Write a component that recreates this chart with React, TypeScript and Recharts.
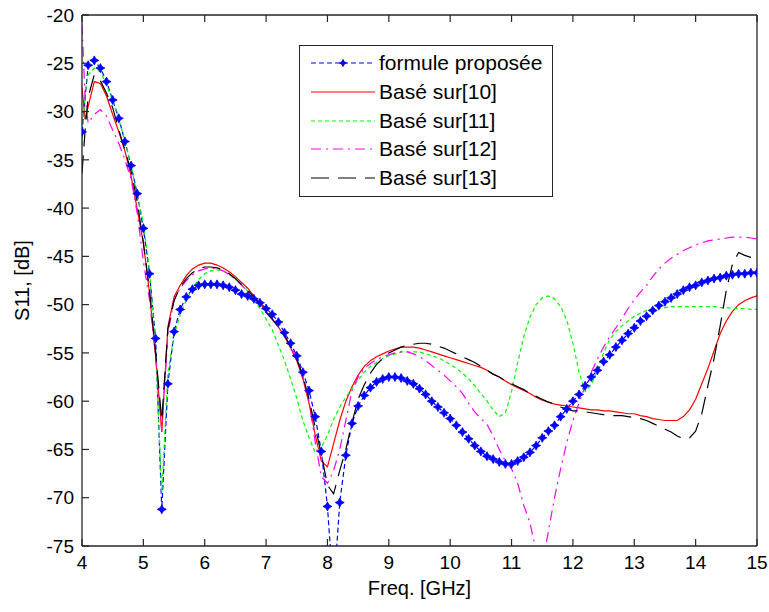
import { LineChart, Line, XAxis, YAxis, Legend } from "recharts";

// frequency grid, GHz (one extra point at 4.05 for the sharp start)
const freq = [
  4.0, 4.05,
  4.1, 4.2, 4.3, 4.4, 4.5, 4.6, 4.7, 4.8, 4.9, 5.0,
  5.1, 5.2, 5.3, 5.4, 5.5, 5.6, 5.7, 5.8, 5.9, 6.0,
  6.1, 6.2, 6.3, 6.4, 6.5, 6.6, 6.7, 6.8, 6.9, 7.0,
  7.1, 7.2, 7.3, 7.4, 7.5, 7.6, 7.7, 7.8, 7.9, 8.0,
  8.1, 8.2, 8.3, 8.4, 8.5, 8.6, 8.7, 8.8, 8.9, 9.0,
  9.1, 9.2, 9.3, 9.4, 9.5, 9.6, 9.7, 9.8, 9.9, 10.0,
  10.1, 10.2, 10.3, 10.4, 10.5, 10.6, 10.7, 10.8, 10.9, 11.0,
  11.1, 11.2, 11.3, 11.4, 11.5, 11.6, 11.7, 11.8, 11.9, 12.0,
  12.1, 12.2, 12.3, 12.4, 12.5, 12.6, 12.7, 12.8, 12.9, 13.0,
  13.1, 13.2, 13.3, 13.4, 13.5, 13.6, 13.7, 13.8, 13.9, 14.0,
  14.1, 14.2, 14.3, 14.4, 14.5, 14.6, 14.7, 14.8, 14.9, 15.0,
];

const formuleProposee = [
  -32.1, null,
  -25.2, -24.7, -25.5, -26.9, -28.8, -30.7, -33.1, -35.6, -38.5, -42.1,
  -46.8, -53.5, -71.2, -58.2, -52.8, -50.5, -49.2, -48.4, -48.0, -47.9,
  -47.9, -47.9, -48.0, -48.2, -48.5, -48.9, -49.1, -49.4, -49.8, -50.4,
  -51.0, -51.8, -52.9, -54.0, -55.3, -57.0, -58.9, -61.6, -65.2, -70.9,
  -80.0, -70.5, -65.6, -62.3, -60.5, -59.4, -58.6, -58.0, -57.7, -57.5,
  -57.5, -57.6, -57.9, -58.2, -58.7, -59.3, -60.0, -60.6, -61.2, -61.8,
  -62.5, -63.2, -63.9, -64.6, -65.2, -65.7, -66.0, -66.3, -66.5, -66.5,
  -66.2, -65.8, -65.3, -64.6, -63.8, -63.1, -62.5, -61.6, -60.8, -60.0,
  -59.3, -58.4, -57.5, -56.8, -55.9, -55.2, -54.4, -53.7, -53.0, -52.4,
  -51.7, -51.2, -50.6, -50.1, -49.7, -49.3, -48.9, -48.5, -48.2, -48.0,
  -47.7, -47.5, -47.3, -47.2, -47.0, -46.9, -46.8, -46.8, -46.7, -46.7,
];

const baseSur10 = [
  -27.5, -30.8,
  -29.5, -26.9, -27.1, -28.4, -30.3, -32.1, -34.1, -36.7, -40.1, -43.6,
  -48.8, -55.3, -63.2, -52.3, -49.2, -48.0, -47.0, -46.3, -45.9, -45.7,
  -45.7, -45.9, -46.2, -46.6, -47.1, -47.7, -48.3, -49.1, -49.9, -50.7,
  -51.5, -52.3, -53.3, -54.5, -55.8, -57.7, -60.2, -63.5, -66.2, -66.8,
  -64.4, -62.0, -60.0, -58.5, -57.3, -56.4, -55.8, -55.4, -55.1, -54.8,
  -54.6, -54.4, -54.4, -54.4, -54.5, -54.7, -54.9, -55.1, -55.3, -55.5,
  -55.7, -55.9, -56.1, -56.3, -56.5, -56.8, -57.2, -57.5, -57.9, -58.3,
  -58.6, -58.9, -59.2, -59.6, -59.9, -60.1, -60.3, -60.4, -60.5, -60.6,
  -60.7, -60.8, -60.9, -60.9, -61.0, -61.0, -61.1, -61.2, -61.3, -61.3,
  -61.5, -61.6, -61.8, -61.9, -62.0, -62.0, -62.0, -61.6, -60.9, -59.8,
  -58.2, -56.6, -54.8, -53.0, -51.7, -50.7, -50.0, -49.6, -49.3, -49.1,
];

const baseSur11 = [
  -33.5, -28.0,
  -26.2, -25.5, -25.9, -27.2, -28.9, -30.8, -33.0, -35.6, -38.7, -41.5,
  -46.5, -54.5, -69.5, -57.0, -53.3, -51.0, -49.5, -48.3, -47.4, -46.8,
  -46.5, -46.4, -46.5, -46.9, -47.4, -47.9, -48.6, -49.5, -50.4, -51.5,
  -52.6, -54.2, -55.8, -57.7, -59.7, -62.0, -63.8, -65.3, -64.8, -63.5,
  -61.9, -60.6, -59.6, -58.7, -57.8, -57.0, -56.4, -56.0, -55.6, -55.3,
  -55.1, -54.9, -54.9, -54.9, -54.9, -55.1, -55.3, -55.5, -55.8, -56.2,
  -56.6, -57.1, -57.7, -58.4, -59.2, -60.0, -60.9, -61.6, -61.2, -59.0,
  -56.0, -53.3, -51.3, -50.0, -49.3, -49.1, -49.4, -50.2, -51.6, -54.0,
  -57.0, -59.0, -58.3, -56.8, -55.0, -53.6, -52.8, -52.2, -51.7, -51.2,
  -50.9, -50.6, -50.5, -50.4, -50.3, -50.2, -50.2, -50.2, -50.2, -50.2,
  -50.2, -50.2, -50.2, -50.3, -50.3, -50.4, -50.4, -50.4, -50.5, -50.5,
];

const baseSur12 = [
  -21.0, -28.5,
  -31.2, -30.3, -29.8, -30.5, -31.9, -33.3, -35.0, -37.0, -40.5, -45.5,
  -49.5, -55.5, -63.0, -53.0, -49.5, -48.3, -47.5, -46.9, -46.5, -46.3,
  -46.2, -46.3, -46.5, -46.9, -47.4, -48.0, -48.6, -49.3, -50.0, -50.8,
  -51.5, -52.3, -53.2, -54.3, -55.6, -57.4, -60.0, -64.2, -67.8, -68.5,
  -67.2, -65.0, -62.0, -58.9, -57.5, -56.6, -56.1, -55.7, -55.4, -55.2,
  -55.0, -54.9, -54.9, -55.1, -55.4, -55.8, -56.3, -56.8, -57.3, -57.9,
  -58.5, -59.2, -60.2, -61.1, -61.8, -62.4, -63.6, -65.0, -66.2, -67.0,
  -68.5, -70.8, -72.6, -75.5, -77.0, -73.5, -70.0, -67.0, -64.3, -62.0,
  -60.2, -58.4, -57.0, -55.6, -54.4, -53.3, -52.4, -51.4, -50.4, -49.5,
  -48.7, -48.0, -47.1, -46.3, -45.7, -45.2, -44.8, -44.4, -44.1, -43.8,
  -43.6, -43.4, -43.3, -43.2, -43.1, -43.0, -43.0, -43.0, -43.1, -43.2,
];

const baseSur13 = [
  -36.4, -32.0,
  -28.5, -26.2, -26.8, -28.1, -29.6, -31.9, -34.0, -36.2, -39.3, -43.6,
  -48.5, -55.0, -62.0, -52.5, -49.6, -48.2, -47.3, -46.7, -46.3, -46.1,
  -46.1, -46.2, -46.4, -46.8, -47.3, -47.9, -48.5, -49.2, -50.0, -50.8,
  -51.5, -52.3, -53.2, -54.3, -55.6, -57.4, -59.8, -62.7, -65.5, -68.7,
  -69.6, -67.2, -65.0, -62.2, -59.8, -58.3, -57.1, -56.2, -55.6, -55.0,
  -54.7, -54.4, -54.2, -54.1, -54.0, -54.0, -54.1, -54.3, -54.5, -54.8,
  -55.1, -55.4, -55.7, -56.0, -56.4, -56.8, -57.2, -57.5, -57.9, -58.2,
  -58.5, -58.8, -59.2, -59.5, -59.8, -60.1, -60.3, -60.6, -60.8, -61.0,
  -61.0, -61.1, -61.2, -61.3, -61.4, -61.5, -61.5, -61.5, -61.6, -61.7,
  -61.8, -62.0, -62.3, -62.6, -62.9, -63.2, -63.6, -63.9, -63.8, -63.1,
  -61.3, -58.4, -55.6, -52.2, -48.5, -45.8, -44.6, -44.9, -45.1, -45.2,
];

const xTicks = [4, 5, 6, 7, 8, 9, 10, 11, 12, 13, 14, 15];
const yTicks = [-75, -70, -65, -60, -55, -50, -45, -40, -35, -30, -25, -20];

const seriesNames = [
  "formule proposée",
  "Basé sur[10]",
  "Basé sur[11]",
  "Basé sur[12]",
  "Basé sur[13]",
];

const seriesKeys = ["s0", "s1", "s2", "s3", "s4"];
const seriesColors = ["#0000ff", "#ff0000", "#00ff00", "#ff00ff", "#000000"];
const seriesDashes = ["5 3", "", "4 3", "10 5 2 5", "18 9"];

const rows = freq.map((f, i) => ({
  f,
  s0: formuleProposee[i],
  s1: baseSur10[i],
  s2: baseSur11[i],
  s3: baseSur12[i],
  s4: baseSur13[i],
}));

const FONT = '"Liberation Sans", Arial, sans-serif';
const AXIS = "#262626";

function starPath(cx: number, cy: number, r: number) {
  const k = r * 0.35;
  return `M${cx},${cy - r}L${cx + k},${cy - k}L${cx + r},${cy}L${cx + k},${cy + k}L${cx},${cy + r}L${cx - k},${cy + k}L${cx - r},${cy}L${cx - k},${cy - k}Z`;
}

function StarDot(props: any) {
  const { cx, cy, value, index } = props;
  if (cx == null || cy == null || value == null || value < -75) {
    return <g key={`d${index}`} />;
  }
  return (
    <path
      key={`d${index}`}
      d={starPath(cx, cy, 4.5)}
      fill="#0000ff"
      stroke="#0000ff"
      strokeWidth={0.8}
    />
  );
}

function LegendBox() {
  return (
    <div
      style={{
        width: 254,
        height: 152,
        boxSizing: "border-box",
        border: `1.5px solid ${AXIS}`,
        background: "#fff",
        paddingTop: 3,
        fontFamily: FONT,
        fontSize: 21,
        color: "#000",
      }}
    >
      {seriesNames.map((name, i) => (
        <div
          key={name}
          style={{ display: "flex", alignItems: "center", height: 28.7 }}
        >
          <svg width={79} height={20} style={{ flex: "none" }}>
            <line
              x1={11}
              x2={75}
              y1={10}
              y2={10}
              stroke={seriesColors[i]}
              strokeWidth={1.2}
              strokeDasharray={seriesDashes[i] || undefined}
            />
            {i === 0 && (
              <path d={starPath(43, 10, 3.5)} fill="#0000ff" stroke="#0000ff" />
            )}
          </svg>
          <span style={{ whiteSpace: "nowrap" }}>{name}</span>
        </div>
      ))}
    </div>
  );
}

function YLabel(props: any) {
  const vb = props.viewBox || { x: 0, y: 0, height: 0 };
  const x = vb.x + 22;
  const y = vb.y + vb.height / 2;
  return (
    <text
      x={x}
      y={y}
      transform={`rotate(-90, ${x}, ${y})`}
      textAnchor="middle"
      dominantBaseline="central"
      fontSize={20}
      fontFamily={FONT}
      fill="#000"
    >
      S11, [dB]
    </text>
  );
}

export default function App() {
  const tickStyle = { fill: "#000", fontSize: 19, fontFamily: FONT };
  return (
    <div
      style={{
        position: "absolute",
        left: 0,
        top: 0,
        width: 769,
        height: 612,
        background: "#fff",
        fontFamily: FONT,
      }}
    >
      <LineChart
        width={769}
        height={612}
        data={rows}
        margin={{ top: 14, right: 11, bottom: 0, left: 0 }}
      >
        <XAxis
          dataKey="f"
          type="number"
          domain={[4, 15]}
          ticks={xTicks}
          allowDataOverflow
          height={66}
          tickSize={-7}
          tickMargin={17}
          tick={tickStyle}
          axisLine={{ stroke: AXIS, strokeWidth: 1.3 }}
          tickLine={{ stroke: AXIS, strokeWidth: 1.2 }}
          label={{
            value: "Freq. [GHz]",
            position: "insideBottom",
            offset: 17,
            fontSize: 20,
            fontFamily: FONT,
            fill: "#000",
          }}
        />
        <XAxis
          xAxisId="top"
          orientation="top"
          dataKey="f"
          type="number"
          domain={[4, 15]}
          ticks={xTicks}
          height={1}
          tickSize={-7}
          tickFormatter={() => ""}
          axisLine={{ stroke: AXIS, strokeWidth: 1.3 }}
          tickLine={{ stroke: AXIS, strokeWidth: 1.2 }}
        />
        <YAxis
          type="number"
          domain={[-75, -20]}
          ticks={yTicks}
          allowDataOverflow
          width={82}
          tickSize={-7}
          tickMargin={15}
          tick={tickStyle}
          axisLine={{ stroke: AXIS, strokeWidth: 1.3 }}
          tickLine={{ stroke: AXIS, strokeWidth: 1.2 }}
          label={{ content: <YLabel /> }}
        />
        <YAxis
          yAxisId="right"
          orientation="right"
          type="number"
          domain={[-75, -20]}
          ticks={yTicks}
          width={1}
          tickSize={-7}
          tickFormatter={() => ""}
          axisLine={{ stroke: AXIS, strokeWidth: 1.3 }}
          tickLine={{ stroke: AXIS, strokeWidth: 1.2 }}
        />
        <Legend
          layout="vertical"
          align="center"
          verticalAlign="middle"
          content={<LegendBox />}
          wrapperStyle={{ left: 299, top: 45, width: 254, height: 152 }}
        />
        {seriesKeys.map((k, i) => (
          <Line
            key={k}
            dataKey={k}
            name={seriesNames[i]}
            type="linear"
            stroke={seriesColors[i]}
            strokeWidth={1.2}
            strokeDasharray={seriesDashes[i] || undefined}
            dot={i === 0 ? StarDot : false}
            activeDot={false}
            connectNulls
            isAnimationActive={false}
          />
        ))}
      </LineChart>
    </div>
  );
}
